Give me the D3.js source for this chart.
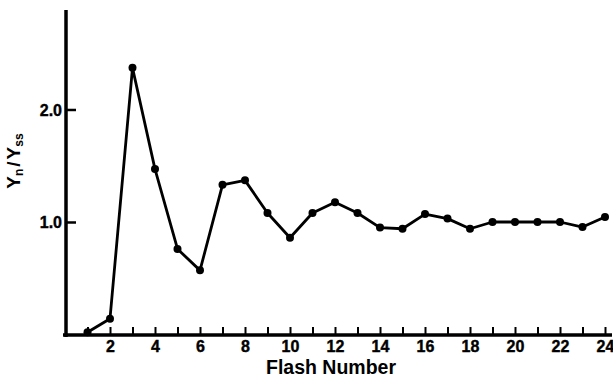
<!DOCTYPE html>
<html><head><meta charset="utf-8">
<script src="https://cdn.jsdelivr.net/npm/d3@7"></script>
<style>body{margin:0;background:#fff}svg{display:block}</style>
</head><body>
<script>
const flashes = d3.range(1, 25);
const ratios = [0.02,0.14,2.37,1.47,0.76,0.57,1.33,1.37,1.08,0.86,1.08,1.175,1.08,0.95,0.94,1.07,1.03,0.94,1.00,1.00,1.00,1.00,0.955,1.045];
const xTickLabels = [2,4,6,8,10,12,14,16,18,20,22,24];
const yTickValues = [1.0, 2.0];
const data = flashes.map((f,i)=>({f, v: ratios[i]}));

const W=613,H=383;
const svg=d3.select("body").append("svg").attr("width",W).attr("height",H);
const x=d3.scaleLinear().domain([0,24]).range([65,605]);
const y=d3.scaleLinear().domain([0,2.87]).range([334.5,11.6]);
const font="'Liberation Sans', Arial, sans-serif";

// x axis
const xAxis=d3.axisBottom(x).tickValues(d3.range(1,25)).tickSize(0).tickFormat("");
const gx=svg.append("g").attr("transform","translate(0,335)").call(xAxis);
gx.select(".domain").remove();
svg.append("line").attr("x1",63).attr("x2",612).attr("y1",335).attr("y2",335).attr("stroke","#000").attr("stroke-width",3.5);
gx.selectAll(".tick").append("line").attr("y1",0).attr("y2",-8).attr("stroke","#000").attr("stroke-width",2);
gx.selectAll(".tick").filter(d=>xTickLabels.includes(d)).append("text")
  .attr("y",17).attr("text-anchor","middle").attr("font-family",font).attr("font-weight","bold")
  .attr("font-size",16).attr("fill","#000").attr("stroke","#000").attr("stroke-width",0.4).text(d=>d);

// y axis
const yAxis=d3.axisRight(y).tickValues(yTickValues).tickSize(0).tickFormat("");
const gy=svg.append("g").attr("transform","translate(66,0)").call(yAxis);
gy.select(".domain").remove();
svg.append("line").attr("x1",66).attr("x2",66).attr("y1",10).attr("y2",337).attr("stroke","#000").attr("stroke-width",3.5);
gy.selectAll(".tick").append("line").attr("x1",0).attr("x2",10).attr("stroke","#000").attr("stroke-width",2.5);
gy.selectAll(".tick").append("text").attr("x",-4).attr("dy","0.36em").attr("text-anchor","end")
  .attr("font-family",font).attr("font-weight","bold").attr("font-size",16).attr("fill","#000")
  .attr("stroke","#000").attr("stroke-width",0.4)
  .text(d=>d3.format(".1f")(d));

// line
svg.append("path").datum(data).attr("fill","none").attr("stroke","#000").attr("stroke-width",2.8)
  .attr("stroke-linejoin","round")
  .attr("d",d3.line().x(d=>x(d.f)).y(d=>y(d.v)));
svg.selectAll("circle.pt").data(data).join("circle").attr("class","pt")
  .attr("cx",d=>x(d.f)).attr("cy",d=>y(d.v)).attr("r",4).attr("fill","#000");

// x label
svg.append("text").attr("x",331).attr("y",374).attr("text-anchor","middle")
  .attr("font-family",font).attr("font-weight","bold").attr("font-size",19.5).attr("fill","#000")
  .text("Flash Number");

// y label
const yl=svg.append("text").attr("transform","translate(20,161) rotate(-90)").attr("text-anchor","middle")
  .attr("font-family",font).attr("font-weight","bold").attr("font-size",19).attr("fill","#000");
yl.append("tspan").text("Y");
yl.append("tspan").attr("font-size",12).attr("dy",3).text("n");
yl.append("tspan").attr("dy",-3).attr("dx",2).text("/");
yl.append("tspan").attr("dx",2).text("Y");
yl.append("tspan").attr("font-size",12).attr("dy",3).text("ss");
</script>
</body></html>
